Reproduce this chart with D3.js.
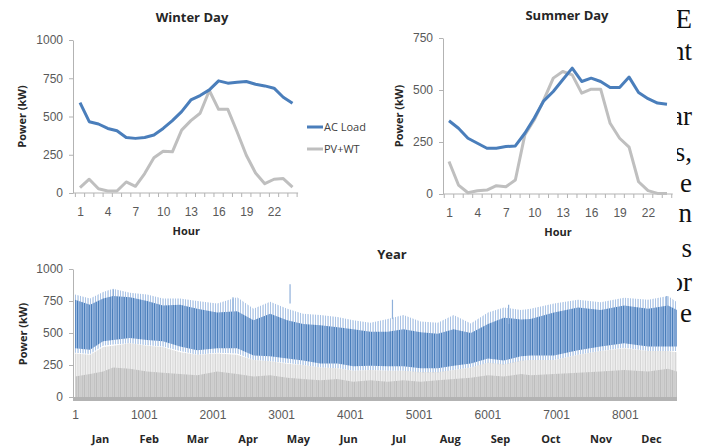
<!DOCTYPE html>
<html>
<head>
<meta charset="utf-8">
<script src="https://cdn.jsdelivr.net/npm/d3@7"></script>
<style>
    body { margin: 0; background: #fff; }
    svg { display: block; font-family: 'Open Sans', sans-serif; }
    .tick text { fill: #595959; font-size: 12px; }
    .axis path, .axis line { stroke: #b3b3b3; }
    .title { font-weight: bold; font-size: 13px; fill: #262626; }
    .axisTitle { font-weight: bold; font-size: 11px; fill: #262626; }
    .legend { font-size: 11px; fill: #404040; }
    .frag { font-family: 'Liberation Serif', serif; font-size: 27px; fill: #111; }
</style>
</head>
<body>
<script>
// daily profiles (kW), hours 1..24
var hours = d3.range(1, 25);
var winterLoad = [591, 466, 451, 422, 407, 363, 357, 363, 379, 422, 473, 532, 608, 637, 674, 733, 718, 724, 729, 711, 700, 685, 626, 586];
var winterPv = [35, 90, 28, 13, 13, 72, 44, 127, 230, 273, 269, 411, 473, 521, 670, 547, 547, 400, 247, 131, 61, 90, 94, 39];
var summerLoad = [352, 316, 268, 244, 220, 220, 228, 231, 292, 365, 448, 493, 549, 605, 541, 557, 541, 512, 512, 562, 488, 458, 437, 432];
var summerPv = [156, 43, 6, 16, 19, 40, 35, 67, 284, 357, 453, 557, 589, 573, 485, 504, 504, 340, 268, 225, 59, 16, 3, 3];
var hourTicks = [1, 4, 7, 10, 13, 16, 19, 22];

// yearly envelopes (kW)
var yearHours = [1, 220, 410, 555, 800, 1050, 1280, 1530, 1780, 2070, 2360, 2600, 2840, 3090, 3320, 3570, 3820, 4050, 4300, 4550, 4780, 5030, 5280, 5510, 5760, 6010, 6240, 6490, 6630, 6970, 7320, 7650, 7990, 8340, 8630, 8760];
var spikeTop = [800, 770, 820, 845, 815, 800, 770, 770, 750, 730, 780, 690, 745, 690, 650, 640, 625, 600, 580, 610, 640, 590, 580, 640, 575, 660, 700, 680, 690, 730, 760, 740, 775, 760, 790, 740];
var loadHigh = [760, 720, 770, 790, 780, 750, 715, 720, 690, 660, 670, 600, 650, 600, 570, 560, 545, 530, 510, 510, 530, 505, 495, 530, 500, 570, 620, 605, 610, 660, 700, 680, 715, 690, 715, 680];
var loadLow = [380, 370, 435, 445, 460, 445, 435, 395, 365, 380, 380, 325, 318, 300, 285, 262, 262, 240, 245, 240, 240, 225, 225, 245, 262, 300, 285, 318, 325, 325, 365, 395, 420, 395, 395, 395];
var spikeBottom = [345, 335, 400, 410, 420, 405, 395, 360, 330, 345, 340, 290, 280, 265, 250, 230, 225, 205, 210, 205, 205, 190, 190, 210, 230, 265, 250, 280, 290, 290, 330, 360, 385, 360, 360, 360];
var pvHigh = [340, 330, 390, 400, 420, 400, 390, 350, 330, 340, 330, 290, 280, 260, 250, 230, 225, 205, 210, 205, 205, 195, 195, 210, 230, 270, 255, 285, 290, 290, 330, 360, 380, 360, 360, 350];
var pvMid = [160, 180, 200, 230, 220, 200, 190, 180, 170, 200, 180, 160, 170, 150, 140, 130, 140, 120, 130, 120, 130, 120, 130, 140, 150, 170, 160, 180, 170, 180, 190, 200, 210, 200, 220, 200];
var spikes = [[560, 840], [3130, 880], [2300, 780], [4620, 760], [6310, 720], [8610, 790]];
var yearTicks = [1, 1001, 2001, 3001, 4001, 5001, 6001, 7001, 8001];
var months = ['Jan', 'Feb', 'Mar', 'Apr', 'May', 'Jun', 'Jul', 'Aug', 'Sep', 'Oct', 'Nov', 'Dec'];
var monthMid = [372, 1080, 1788, 2520, 3252, 3984, 4716, 5460, 6192, 6924, 7656, 8388];

// text fragments from the page behind the figure
var fragWords = ['E', 'nt', 'ar', 's,', 'e', 'n', 's', 'or', 'e'];
var fragBase = [28, 60, 125, 161, 192, 222, 257, 291, 322];

var blue = '#4a7ebb', grey = '#bfbfbf';

var svg = d3.select('body')
    .append('svg')
    .attr('width', 712)
    .attr('height', 446);

var defs = svg.append('defs');
// vertical stripe fill to mimic densely packed hourly lines
function stripes(id, bg, fg, w, bars) {
    var p = defs.append('pattern')
        .attr('id', id)
        .attr('patternUnits', 'userSpaceOnUse')
        .attr('width', w)
        .attr('height', 4);
    if (bg) p.append('rect').attr('width', w).attr('height', 4).attr('fill', bg);
    bars.forEach(function(b) {
        p.append('rect').attr('x', b[0]).attr('width', b[1]).attr('height', 4).attr('fill', fg);
    });
}
stripes('blueCore', '#9dbbe2', blue, 7, [[0, 1.1], [2.6, 0.8], [4.6, 1.2]]);
stripes('blueOuter', null, '#aac3e5', 5, [[0, 1], [2.4, 1.3]]);
stripes('greyLight', null, '#d6d6d6', 5, [[0, 1.3], [1.9, 0.8], [3.4, 1.1]]);
stripes('greyDark', '#dcdcdc', '#bdbdbd', 6, [[0, 1.4], [2.5, 0.9], [4.2, 1.2]]);

// serif fragments
var fragClip = defs.append('clipPath').attr('id', 'fragClip');
fragClip.append('rect').attr('x', 677).attr('y', 0).attr('width', 40).attr('height', 340);
svg.append('g')
    .attr('clip-path', 'url(#fragClip)')
    .selectAll('text')
    .data(fragWords)
    .enter()
    .append('text')
    .attr('class', 'frag')
    .attr('text-anchor', 'end')
    .attr('x', 692)
    .attr('y', function(d, i) { return fragBase[i]; })
    .text(function(d) { return d; });

function dayChart(cfg) {
    var g = svg.append('g');

    var xScale = d3.scaleLinear().domain([1, 24]).range([cfg.x0, cfg.x1]);
    var yScale = d3.scaleLinear().domain([0, cfg.yMax]).range([cfg.yBottom, cfg.yTop]);
    var step = (cfg.x1 - cfg.x0) / 23;

    var yAxis = d3.axisLeft(yScale)
        .tickValues(d3.range(0, cfg.yMax + 1, 250))
        .tickFormat(d3.format('d'))
        .tickSize(4)
        .tickSizeOuter(0)
        .tickPadding(6);
    g.append('g')
        .attr('class', 'axis')
        .attr('transform', `translate(${cfg.axisX}, 0)`)
        .call(yAxis);

    var xAxis = d3.axisBottom(xScale)
        .tickValues(hourTicks)
        .tickFormat(d3.format('d'))
        .tickSize(0)
        .tickPadding(14);
    var xg = g.append('g')
        .attr('class', 'axis')
        .attr('transform', `translate(0, ${cfg.yBottom})`)
        .call(xAxis);
    xg.select('.domain').remove();
    xg.append('line')
        .attr('x1', cfg.axisX).attr('x2', cfg.x1 + step / 2 + 1)
        .attr('stroke', '#b3b3b3');
    // category boundary ticks
    xg.selectAll('.cat')
        .data(d3.range(0, 25))
        .enter()
        .append('line')
        .attr('class', 'cat')
        .attr('x1', function(d) { return xScale(1) - step / 2 + d * step; })
        .attr('x2', function(d) { return xScale(1) - step / 2 + d * step; })
        .attr('y1', 0).attr('y2', 4)
        .attr('stroke', '#b3b3b3');

    var line = d3.line()
        .x(function(d, i) { return xScale(hours[i]); })
        .y(function(d) { return yScale(d); });

    g.append('path')
        .datum(cfg.pv)
        .attr('fill', 'none')
        .attr('stroke', grey)
        .attr('stroke-width', 3)
        .attr('stroke-linejoin', 'round')
        .attr('d', line);

    g.append('path')
        .datum(cfg.load)
        .attr('fill', 'none')
        .attr('stroke', blue)
        .attr('stroke-width', 3)
        .attr('stroke-linejoin', 'round')
        .attr('d', line);

    g.append('text')
        .attr('class', 'title')
        .attr('text-anchor', 'middle')
        .attr('x', cfg.titleX)
        .attr('y', cfg.titleY)
        .text(cfg.title);

    g.append('text')
        .attr('class', 'axisTitle')
        .attr('text-anchor', 'middle')
        .attr('x', (cfg.x0 + cfg.x1) / 2)
        .attr('y', cfg.yBottom + 42)
        .text('Hour');

    g.append('text')
        .attr('class', 'axisTitle')
        .attr('text-anchor', 'middle')
        .attr('transform', `translate(${cfg.ytX}, ${(cfg.yTop + cfg.yBottom) / 2}) rotate(-90)`)
        .text('Power (kW)');
}

dayChart({ title: 'Winter Day', titleX: 192, titleY: 22, load: winterLoad, pv: winterPv,
    x0: 80, x1: 292.5, axisX: 73, yTop: 40, yBottom: 193, yMax: 1000, ytX: 26 });
dayChart({ title: 'Summer Day', titleX: 567, titleY: 20, load: summerLoad, pv: summerPv,
    x0: 449, x1: 667, axisX: 443, yTop: 38, yBottom: 194, yMax: 750, ytX: 403 });

// legend
var legend = svg.append('g');
[['AC Load', blue, 127], ['PV+WT', grey, 149]].forEach(function(d) {
    legend.append('line')
        .attr('x1', 307).attr('x2', 323)
        .attr('y1', d[2]).attr('y2', d[2])
        .attr('stroke', d[1])
        .attr('stroke-width', 3);
    legend.append('text')
        .attr('class', 'legend')
        .attr('x', 324)
        .attr('y', d[2] + 4)
        .text(d[0]);
});

// year chart
var xYear = d3.scaleLinear().domain([1, 8760]).range([75, 677]);
var yYear = d3.scaleLinear().domain([0, 1000]).range([397, 269]);

svg.append('g')
    .attr('class', 'axis')
    .attr('transform', 'translate(73, 0)')
    .call(d3.axisLeft(yYear).tickValues([0, 250, 500, 750, 1000]).tickFormat(d3.format('d'))
        .tickSize(4).tickSizeOuter(0).tickPadding(6));

var bandArea = function(lo, hi) {
    return d3.area()
        .x(function(d, i) { return xYear(yearHours[i]); })
        .y0(function(d, i) { return yYear(lo[i]); })
        .y1(function(d, i) { return yYear(hi[i]); });
};
var zeros = yearHours.map(function() { return 0; });

svg.append('path')
    .datum(yearHours)
    .attr('fill', 'url(#blueOuter)')
    .attr('d', bandArea(spikeBottom, spikeTop));

svg.append('path')
    .datum(yearHours)
    .attr('fill', 'url(#blueCore)')
    .attr('d', bandArea(loadLow, loadHigh));

svg.selectAll('.spike')
    .data(spikes)
    .enter()
    .append('line')
    .attr('class', 'spike')
    .attr('x1', function(d) { return xYear(d[0]); })
    .attr('x2', function(d) { return xYear(d[0]); })
    .attr('y1', function(d) { return yYear(d[1] - 150); })
    .attr('y2', function(d) { return yYear(d[1]); })
    .attr('stroke', '#8fb0da')
    .attr('stroke-width', 1.2);

svg.append('path')
    .datum(yearHours)
    .attr('fill', 'url(#greyLight)')
    .attr('d', bandArea(zeros, pvHigh));

svg.append('path')
    .datum(yearHours)
    .attr('fill', 'url(#greyDark)')
    .attr('d', bandArea(zeros, pvMid));

var xgYear = svg.append('g')
    .attr('class', 'axis')
    .attr('transform', 'translate(0, 399)')
    .call(d3.axisBottom(xYear).tickValues(yearTicks).tickFormat(d3.format('d'))
        .tickSize(0).tickSizeOuter(0).tickPadding(11));
xgYear.select('.domain')
    .attr('stroke', '#8c8c8c')
    .attr('stroke-width', 4)
    .attr('d', 'M73,0H677');

svg.selectAll('.month')
    .data(months)
    .enter()
    .append('text')
    .attr('class', 'axisTitle month')
    .attr('text-anchor', 'middle')
    .attr('x', function(d, i) { return xYear(monthMid[i]); })
    .attr('y', 443)
    .text(function(d) { return d; });

svg.append('text')
    .attr('class', 'title')
    .attr('text-anchor', 'middle')
    .attr('x', 392)
    .attr('y', 259)
    .text('Year');

svg.append('text')
    .attr('class', 'axisTitle')
    .attr('text-anchor', 'middle')
    .attr('transform', 'translate(27, 334) rotate(-90)')
    .text('Power (kW)');
</script>
</body>
</html>
